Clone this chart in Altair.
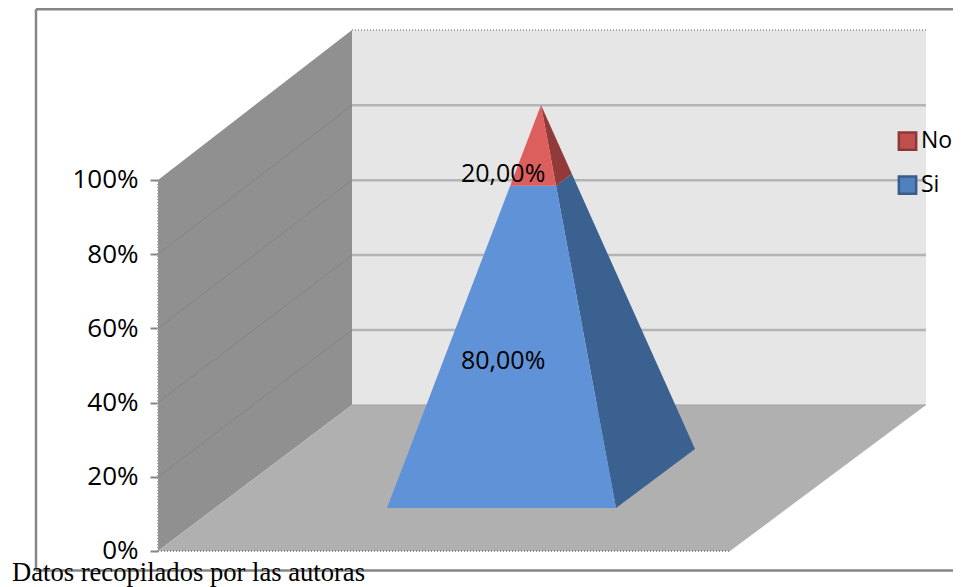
import altair as alt
import pandas as pd

# ---- values
categories = ["Si", "No"]
shares = [80.0, 20.0]
share_labels = ["80,00%", "20,00%"]
tick_values = [0, 20, 40, 60, 80, 100]
wall_steps = [1, 2, 3, 4]

# scale settings: x runs in picture columns, y in percent of the front plane
X_DOMAIN = [158, 953]
Y_DOMAIN = [-7.28, 146.36]
PLOT_W, PLOT_H = 795, 570

# chart box geometry in data units
FLOOR_Y = 39.35          # back edge of the floor
BACK_STEP = 20.2         # one 20% band on the back wall
WALL_LEFT, WALL_BACK, FLOOR_RIGHT, BACK_RIGHT = 158, 352, 730, 926
WALL_TOP = 140.4

# pyramid base and apex
base_fl = (387, 11.6)
base_fr = (616, 11.6)
base_br = (695, 27.5)
apex = (541, 120.2)

FRONT = {"Si": "#5f92d6", "No": "#dc5f5e"}
SIDE = {"Si": "#3a618f", "No": "#923a3a"}
LEGEND_FILL = {"Si": "#4f81bd", "No": "#c0504d"}
LEGEND_STROKE = {"Si": "#385d8a", "No": "#8c3836"}

xs = alt.Scale(domain=X_DOMAIN, range=[0, PLOT_W], nice=False, zero=False)
ys = alt.Scale(domain=Y_DOMAIN, range=[PLOT_H, 0], nice=False, zero=False)
y_axis = alt.Axis(
    values=tick_values,
    labelExpr="datum.value + '%'",
    domain=False,
    grid=False,
    tickColor="#868686",
    tickWidth=2,
    tickSize=8,
    labelPadding=12,
    labelFont="Open Sans",
    labelFontSize=26,
    labelColor="#000000",
)
X = alt.X("x:Q", scale=xs, axis=None)
Y = alt.Y("y:Q", scale=ys, axis=y_axis, stack=None, title=None)


def polygon(vertices, color):
    """Convex polygon as an area: upper and lower edge at each vertex column."""
    rows = []
    n = len(vertices)
    for cx in sorted({v[0] for v in vertices}):
        hits = []
        for i in range(n):
            (x0, y0), (x1, y1) = vertices[i], vertices[(i + 1) % n]
            if min(x0, x1) <= cx <= max(x0, x1):
                if x0 == x1:
                    hits += [y0, y1]
                else:
                    hits.append(y0 + (y1 - y0) * (cx - x0) / (x1 - x0))
        rows.append({"x": cx, "y": max(hits), "y2": min(hits)})
    return alt.Chart(pd.DataFrame(rows)).mark_area(color=color, interpolate="linear").encode(
        x=X, y=Y, y2="y2:Q"
    )


def segment(p0, p1, color, width, dash=None):
    kw = {"strokeDash": dash} if dash else {}
    return alt.Chart(pd.DataFrame({"x": [p0[0], p1[0]], "y": [p0[1], p1[1]]})).mark_line(
        color=color, strokeWidth=width, **kw
    ).encode(x=X, y=Y)


def lerp(a, b, t):
    return (a[0] + (b[0] - a[0]) * t, a[1] + (b[1] - a[1]) * t)


layers = []

# walls and floor
layers.append(polygon([(WALL_LEFT, 0), (WALL_BACK, FLOOR_Y), (WALL_BACK, WALL_TOP), (WALL_LEFT, 100)], "#909090"))
layers.append(polygon([(WALL_BACK, FLOOR_Y), (BACK_RIGHT, FLOOR_Y), (BACK_RIGHT, WALL_TOP), (WALL_BACK, WALL_TOP)], "#e6e6e6"))
layers.append(polygon([(WALL_LEFT, 0), (FLOOR_RIGHT, 0), (BACK_RIGHT, FLOOR_Y), (WALL_BACK, FLOOR_Y)], "#b0b0b0"))

# grid lines
for k in wall_steps:
    back_y = FLOOR_Y + BACK_STEP * k
    layers.append(segment((WALL_LEFT, 20 * k), (WALL_BACK, back_y), "#848484", 1))
    layers.append(segment((WALL_BACK, back_y), (BACK_RIGHT, back_y), "#b4b4b4", 2.5))
layers.append(segment((WALL_BACK, FLOOR_Y), (BACK_RIGHT, FLOOR_Y), "#a0a0a0", 1))

# dotted edges of the box
layers.append(segment((WALL_BACK, WALL_TOP), (BACK_RIGHT, WALL_TOP), "#a6a6a6", 2, [1, 2]))
layers.append(segment((WALL_LEFT, 0), (FLOOR_RIGHT, 0), "#8a8a8a", 2, [1, 2]))
layers.append(segment((WALL_LEFT, 0), (WALL_LEFT, 100), "#a0a0a0", 2, [1, 2]))

# pyramid, split by the share of the lower series
t = shares[0] / sum(shares)
mid_fl, mid_fr, mid_br = lerp(base_fl, apex, t), lerp(base_fr, apex, t), lerp(base_br, apex, t)
layers.append(polygon([base_fr, base_br, mid_br, mid_fr], SIDE["Si"]))
layers.append(polygon([base_fl, base_fr, mid_fr, mid_fl], FRONT["Si"]))
layers.append(polygon([mid_fr, mid_br, apex], SIDE["No"]))
layers.append(polygon([mid_fl, mid_fr, apex], FRONT["No"]))

# value labels
labels = pd.DataFrame({"x": [461, 461], "y": [51.2, 101.6], "t": share_labels})
layers.append(
    alt.Chart(labels).mark_text(align="left", baseline="middle", font="Open Sans", fontSize=25, color="#000000").encode(
        x=X, y=Y, text="t:N"
    )
)

# legend
legend = pd.DataFrame(
    {
        "x": [907.5, 907.5],
        "tx": [921, 921],
        "y": [110.5, 98.6],
        "cat": ["No", "Si"],
    }
)
layers.append(
    alt.Chart(legend).mark_square(size=300, opacity=1, strokeWidth=2.5).encode(
        x=X,
        y=Y,
        fill=alt.Fill("cat:N", scale=alt.Scale(domain=categories, range=[LEGEND_FILL[c] for c in categories]), legend=None),
        stroke=alt.Stroke("cat:N", scale=alt.Scale(domain=categories, range=[LEGEND_STROKE[c] for c in categories]), legend=None),
    )
)
layers.append(
    alt.Chart(legend).mark_text(align="left", baseline="middle", font="Open Sans", fontSize=23, color="#000000").encode(
        x=alt.X("tx:Q", scale=xs, axis=None), y=Y, text="cat:N"
    )
)

# outer frame
FRAME_L, FRAME_T, FRAME_B, FRAME_R = 36, 146.0, -5.26, 953
layers.append(segment((FRAME_L, FRAME_T), (FRAME_R, FRAME_T), "#868686", 2.5))
layers.append(segment((FRAME_L, FRAME_B), (FRAME_R, FRAME_B), "#868686", 2.5))
layers.append(segment((FRAME_L, FRAME_T), (FRAME_L, FRAME_B), "#868686", 2.5))

# source note
note = pd.DataFrame({"x": [12], "y": [-8.1], "t": ["Datos recopilados por las autoras"]})
layers.append(
    alt.Chart(note).mark_text(align="left", baseline="alphabetic", font="Liberation Serif", fontSize=26.6, color="#000000").encode(
        x=X, y=Y, text="t:N"
    )
)

chart = (
    alt.layer(*layers)
    .properties(
        width=PLOT_W,
        height=PLOT_H,
        autosize=alt.AutoSizeParams(type="none"),
        padding={"left": 150, "top": 0, "right": 0, "bottom": 9},
        background="#ffffff",
    )
    .configure_view(stroke=None)
)

chart.save("out.html", embed_options={"renderer": "svg", "actions": False})
